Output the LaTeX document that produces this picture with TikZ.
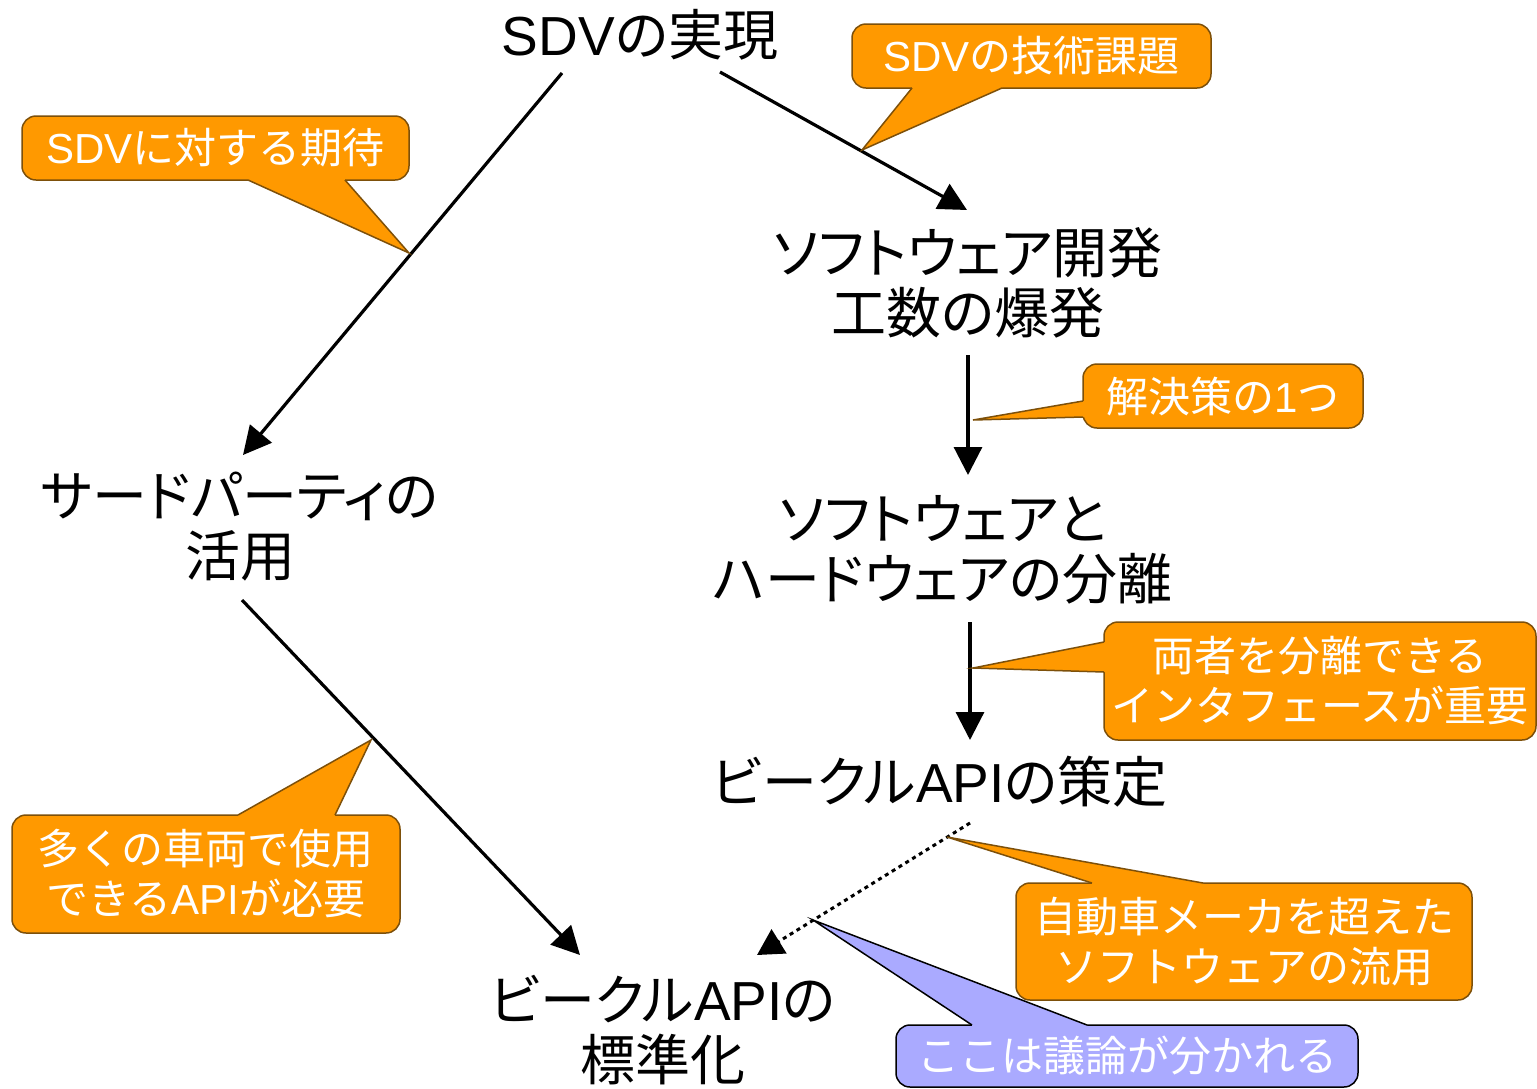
\documentclass[tikz,border=0pt]{standalone}
\usepackage{fontspec}
\setmainfont{Noto Sans CJK JP}
\newfontfamily\mainp[RawFeature=+palt]{Noto Sans CJK JP}
\newfontfamily\lat{Liberation Sans}
\usetikzlibrary{arrows.meta,calc}
\definecolor{ofill}{RGB}{255,153,0}
\definecolor{oline}{RGB}{125,80,10}
\definecolor{bfill}{RGB}{170,170,255}
\begin{document}
\begin{tikzpicture}[x=0.5pt,y=-0.5pt,
  main/.style={font=\mainp\fontsize{27.5}{30}\selectfont, align=center, inner sep=0pt},
  co/.style={draw=oline, fill=ofill, line width=0.75pt, rounded corners=7pt, text=white,
             font=\fontsize{21}{25}\selectfont, align=center, inner sep=0pt},
  cob/.style={co, draw=black, fill=bfill},
  tailfill/.style={fill=ofill},
  tailline/.style={draw=oline, line width=0.75pt, line join=miter},
  arr/.style={line width=1.6pt, -{Triangle[length=14pt,width=14pt]}},
  darr/.style={line width=1.5pt, dash pattern=on 2pt off 2pt, -{Triangle[length=13pt,width=14pt]}},
]
\useasboundingbox (0,0) rectangle (1537,1088);

% main texts
\node[main] (sdv) at (640,35) {{\lat SDV}の実現};
\node[main] (soft) at (968,283) {ソフトウェア開発\\工数の爆発};
\node[main] (sep) at (943,550) {ソフトウェアと\\ハードウェアの分離};
\node[main] (vapi) at (940,782) {ビークル{\lat API}の策定};
\node[main] (third) at (240,527) {サードパーティの\\活用};
\node[main] (std) at (663,1030) {ビークル{\lat API}の\\標準化};

% connector end points
\coordinate (a1s) at (562,73);  \coordinate (a1e) at (243,455);
\coordinate (a2s) at (720,72);  \coordinate (a2e) at (967,210);
\coordinate (a3s) at (968,355); \coordinate (a3e) at (968,475);
\coordinate (a4s) at (970,622); \coordinate (a4e) at (970,740);
\coordinate (a5s) at (242,600); \coordinate (a5e) at (580,955);
\coordinate (a6s) at (970,823); \coordinate (a6e) at (757,955);

\draw[arr] (a1s) -- (a1e);
\draw[arr] (a2s) -- (a2e);
\draw[arr] (a3s) -- (a3e);
\draw[arr] (a4s) -- (a4e);
\draw[arr] (a5s) -- (a5e);
\draw[darr] (a6s) -- (a6e);

% tail tips
\coordinate (t1) at (862,150);
\coordinate (t2) at (409,253);
\coordinate (t3) at (973,420);
\coordinate (t4) at (973,668);
\coordinate (t5) at (371,740);
\coordinate (t6) at (947,837);
\coordinate (t7) at (813,920);

% callout 7 (blue) first
\node[cob, minimum width=231pt, minimum height=31pt] (c7) at (1127,1056) {ここは議論が分かれる};
\coordinate (b7a) at (972,1025); \coordinate (b7b) at (1087,1025);
\fill[bfill] (b7a) -- (t7) -- (b7b) -- ($(b7b)+(0,5)$) -- ($(b7a)+(0,5)$) -- cycle;
\draw[tailline, draw=black] (b7a) -- (t7) -- (b7b);

% callout 1
\node[co, minimum width=179.5pt, minimum height=32pt] (c1) at (1031.5,56) {{\lat SDV}の技術課題};
\coordinate (b1a) at (912,88); \coordinate (b1b) at (1002,88);
\fill[tailfill] (b1a) -- (t1) -- (b1b) -- ($(b1b)+(0,-5)$) -- ($(b1a)+(0,-5)$) -- cycle;
\draw[tailline] (b1a) -- (t1) -- (b1b);

% callout 2
\node[co, minimum width=193.5pt, minimum height=32pt] (c2) at (215.5,148) {{\lat SDV}に対する期待};
\coordinate (b2a) at (248,180); \coordinate (b2b) at (345,180);
\fill[tailfill] (b2a) -- (t2) -- (b2b) -- ($(b2b)+(0,-5)$) -- ($(b2a)+(0,-5)$) -- cycle;
\draw[tailline] (b2a) -- (t2) -- (b2b);

% callout 3
\node[co, minimum width=140pt, minimum height=32pt] (c3) at (1223,396) {解決策の{\lat 1}つ};
\coordinate (b3a) at (1083,401); \coordinate (b3b) at (1083,417);
\fill[tailfill] (b3a) -- (t3) -- (b3b) -- ($(b3b)+(5,0)$) -- ($(b3a)+(5,0)$) -- cycle;
\draw[tailline] (b3a) -- (t3) -- (b3b);

% callout 4
\node[co, minimum width=216pt, minimum height=59pt] (c4) at (1320,681) {両者を分離できる\\インタフェースが重要};
\coordinate (b4a) at (1104,642); \coordinate (b4b) at (1104,672);
\fill[tailfill] (b4a) -- (t4) -- (b4b) -- ($(b4b)+(5,0)$) -- ($(b4a)+(5,0)$) -- cycle;
\draw[tailline] (b4a) -- (t4) -- (b4b);

% callout 5
\node[co, minimum width=194pt, minimum height=59pt] (c5) at (206,874) {多くの車両で使用\\できる{\lat API}が必要};
\coordinate (b5a) at (238,815); \coordinate (b5b) at (335,815);
\fill[tailfill] (b5a) -- (t5) -- (b5b) -- ($(b5b)+(0,5)$) -- ($(b5a)+(0,5)$) -- cycle;
\draw[tailline] (b5a) -- (t5) -- (b5b);

% callout 6
\node[co, minimum width=228pt, minimum height=58.5pt] (c6) at (1244,941.5) {自動車メーカを超えた\\ソフトウェアの流用};
\coordinate (b6a) at (1092,883); \coordinate (b6b) at (1203,883);
\fill[tailfill] (b6a) -- (t6) -- (b6b) -- ($(b6b)+(0,5)$) -- ($(b6a)+(0,5)$) -- cycle;
\draw[tailline] (b6a) -- (t6) -- (b6b);
\end{tikzpicture}
\end{document}
